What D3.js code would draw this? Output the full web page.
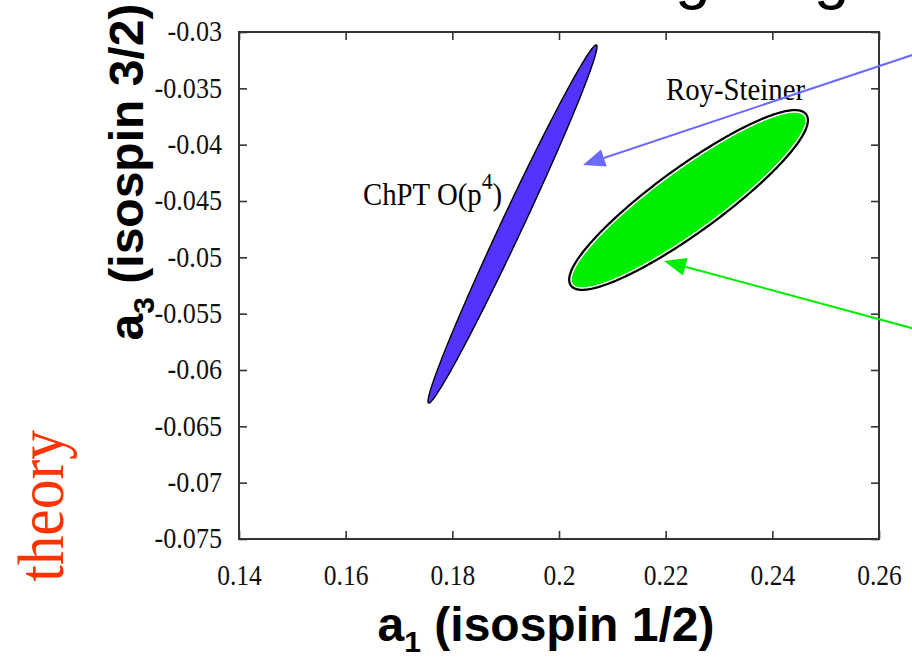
<!DOCTYPE html>
<html>
<head>
<meta charset="utf-8">
<script src="https://cdn.jsdelivr.net/npm/d3@7"></script>
<style>
  html, body { margin: 0; padding: 0; background: #fff; }
  svg { display: block; }
</style>
</head>
<body>
<svg id="chart" width="912" height="666"></svg>
<script>
// Axis ranges and tick labels
const xDomain = [0.14, 0.26];
const yDomain = [-0.075, -0.03];
const xTicks = [0.14, 0.16, 0.18, 0.2, 0.22, 0.24, 0.26];
const yTicks = [-0.03, -0.035, -0.04, -0.045, -0.05, -0.055, -0.06, -0.065, -0.07, -0.075];

// Allowed regions: centre, half-extent along each axis, correlation between a1 and a3
const regionNames   = ["ChPT", "Roy-Steiner"];
const regionA1      = [0.19128, 0.22429];
const regionA3      = [-0.04704, -0.04491];
const regionHalfA1  = [0.01584, 0.02203];
const regionHalfA3  = [0.01589, 0.00781];
const regionCorr    = [0.990, 0.905];

// Label anchor points (data units)
const labelA1 = [0.16325, 0.22006];
const labelA3 = [-0.04535, -0.03604];

// Pointer arrows: from (fromA1, fromA3) to (toA1, toA3)
const arrowFromA1 = [0.2696, 0.2696];
const arrowFromA3 = [-0.03151, -0.05672];
const arrowToA1   = [0.2045, 0.2197];
const arrowToA3   = [-0.0418, -0.05033];
const arrowColors = ["#6b6bff", "#00ee00"];

const svg = d3.select("#chart");
const W = 912, H = 666;
const margin = { left: 239, right: 33, top: 32, bottom: 127 };
const plotW = W - margin.left - margin.right;
const plotH = H - margin.top - margin.bottom;

const x = d3.scaleLinear().domain(xDomain).range([margin.left, margin.left + plotW]);
const y = d3.scaleLinear().domain(yDomain).range([margin.top + plotH, margin.top]);

const fmt = d => String(d);
const serifFont = "'Liberation Serif', 'Times New Roman', serif";
const sansFont = "'Liberation Sans', Arial, Helvetica, sans-serif";

// Squeeze a plain text element horizontally by factor f
function condense(sel, f) {
  sel.each(function () {
    const L = this.getComputedTextLength();
    d3.select(this).attr("textLength", L * f).attr("lengthAdjust", "spacingAndGlyphs");
  });
}

// Slide title (runs off the top edge, only the descenders show)
const title = svg.append("text")
  .attr("font-family", sansFont)
  .attr("font-size", 64)
  .attr("fill", "#000")
  .attr("x", 0)
  .attr("y", -3)
  .text("πK scattering lengths");
{
  const node = title.node();
  const gIdx = node.textContent.indexOf("g");
  const gx = node.getStartPositionOfChar(gIdx).x;
  title.attr("x", 675 - gx);
}

// Axes with inward ticks on all four sides
const tickLen = 8;
const axB = svg.append("g").attr("transform", `translate(0,${margin.top + plotH})`)
  .call(d3.axisBottom(x).tickValues(xTicks).tickSize(-tickLen).tickSizeOuter(0).tickPadding(34).tickFormat(fmt));
const axT = svg.append("g").attr("transform", `translate(0,${margin.top})`)
  .call(d3.axisTop(x).tickValues(xTicks).tickSize(-tickLen).tickSizeOuter(0).tickFormat(""));
const axL = svg.append("g").attr("transform", `translate(${margin.left},0)`)
  .call(d3.axisLeft(y).tickValues(yTicks).tickSize(-tickLen).tickSizeOuter(0).tickPadding(17).tickFormat(fmt));
const axR = svg.append("g").attr("transform", `translate(${margin.left + plotW},0)`)
  .call(d3.axisRight(y).tickValues(yTicks).tickSize(-tickLen).tickSizeOuter(0).tickFormat(""));

[axB, axT, axL, axR].forEach(a => {
  a.select(".domain").remove();
  a.selectAll(".tick line").attr("stroke", "#333").attr("stroke-width", 1.6);
  a.selectAll(".tick text")
    .attr("font-family", serifFont)
    .attr("font-size", 29)
    .attr("fill", "#111");
});
axB.selectAll(".tick text").attr("dy", "0.42em");
axL.selectAll(".tick text").attr("dy", "0.3em");
condense(axB.selectAll(".tick text"), 0.88);
condense(axL.selectAll(".tick text"), 0.9);

// Plot frame
svg.append("rect")
  .attr("x", margin.left).attr("y", margin.top)
  .attr("width", plotW).attr("height", plotH)
  .attr("fill", "none").attr("stroke", "#333").attr("stroke-width", 2);

// Ellipse outline built from the centre, half-extents and correlation
function ellipsePoints(i) {
  const delta = Math.acos(regionCorr[i]);
  return d3.range(0, 360, 1).map(deg => {
    const t = deg * Math.PI / 180;
    return [x(regionA1[i] + regionHalfA1[i] * Math.cos(t)),
            y(regionA3[i] + regionHalfA3[i] * Math.cos(t - delta))];
  });
}
const closed = d3.line().curve(d3.curveLinearClosed);

// ChPT O(p^4) region
svg.append("path")
  .attr("d", closed(ellipsePoints(0)))
  .attr("fill", "#5533ff")
  .attr("stroke", "#000")
  .attr("stroke-width", 1.4);

// Roy-Steiner region: black rim, thin white ring, green fill
const rsPath = closed(ellipsePoints(1));
svg.append("path").attr("d", rsPath)
  .attr("fill", "none").attr("stroke", "#000").attr("stroke-width", 6);
svg.append("path").attr("d", rsPath)
  .attr("fill", "#00ee00").attr("stroke", "#fff").attr("stroke-width", 1.5);

// Region labels (slightly condensed serif)
const chpt = svg.append("g")
  .attr("transform", `translate(${x(labelA1[0])},${y(labelA3[0])}) scale(0.9,1)`)
  .append("text")
  .attr("font-family", serifFont).attr("font-size", 32).attr("fill", "#000");
chpt.append("tspan").text("ChPT O(p");
chpt.append("tspan").attr("dy", -16).attr("font-size", 24).text("4");
chpt.append("tspan").attr("dy", 16).text(")");

svg.append("g")
  .attr("transform", `translate(${x(labelA1[1])},${y(labelA3[1])}) scale(0.9,1)`)
  .append("text")
  .attr("font-family", serifFont).attr("font-size", 32).attr("fill", "#000")
  .text("Roy-Steiner");

// Pointer arrows
arrowColors.forEach((c, i) => {
  const x0 = x(arrowFromA1[i]), y0 = y(arrowFromA3[i]);
  const x1 = x(arrowToA1[i]),   y1 = y(arrowToA3[i]);
  const ang = Math.atan2(y1 - y0, x1 - x0);
  const headL = 22, headW = 9;
  const bx = x1 - headL * Math.cos(ang), by = y1 - headL * Math.sin(ang);
  const nx = -Math.sin(ang), ny = Math.cos(ang);
  svg.append("line")
    .attr("x1", x0).attr("y1", y0).attr("x2", bx).attr("y2", by)
    .attr("stroke", c).attr("stroke-width", 2);
  svg.append("path")
    .attr("d", `M${x1},${y1}L${bx + nx * headW},${by + ny * headW}L${bx - nx * headW},${by - ny * headW}Z`)
    .attr("fill", c);
});

// Axis titles
const xt = svg.append("text")
  .attr("x", 546).attr("y", 641)
  .attr("text-anchor", "middle")
  .attr("font-family", sansFont).attr("font-weight", "bold")
  .attr("font-size", 48).attr("fill", "#000");
xt.append("tspan").text("a");
xt.append("tspan").attr("font-size", 30).attr("dy", 11).text("1");
xt.append("tspan").attr("dy", -11).text(" (isospin 1/2)");

const yt = svg.append("text")
  .attr("transform", "translate(143,172) rotate(-90)")
  .attr("text-anchor", "middle")
  .attr("font-family", sansFont).attr("font-weight", "bold")
  .attr("font-size", 48).attr("fill", "#000");
yt.append("tspan").text("a");
yt.append("tspan").attr("font-size", 30).attr("dy", 11).text("3");
yt.append("tspan").attr("dy", -11).text(" (isospin 3/2)");

// Side note
svg.append("text")
  .attr("transform", "translate(63,506) rotate(-90) scale(0.9,1)")
  .attr("text-anchor", "middle")
  .attr("font-family", serifFont)
  .attr("font-size", 66)
  .attr("fill", "#ff3300")
  .text("theory");
</script>
</body>
</html>
